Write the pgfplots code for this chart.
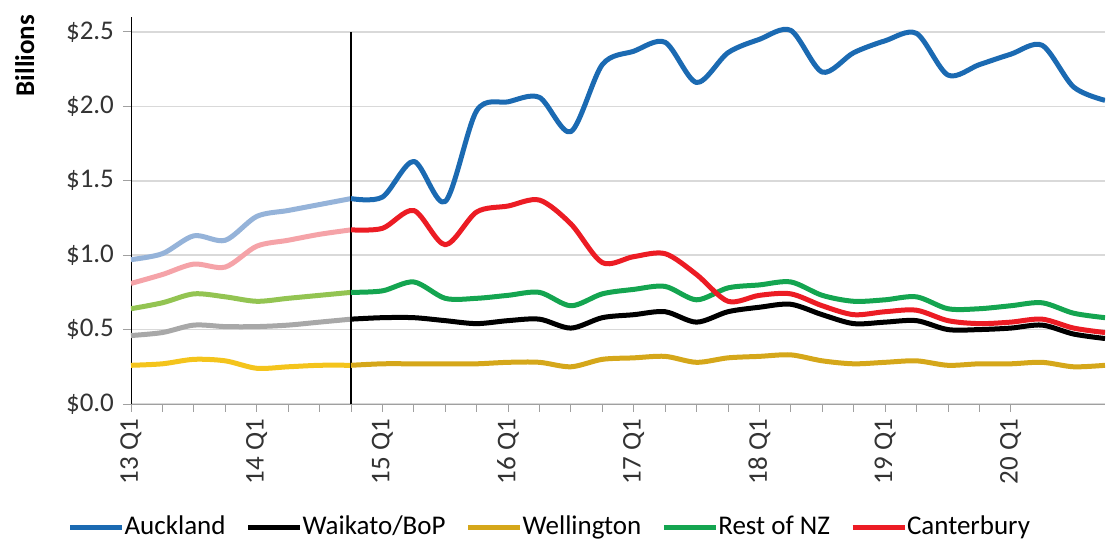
\documentclass[border=0pt]{standalone}
\usepackage{pgfplots}
\usepackage{pgfplotstable}
\pgfplotsset{compat=1.18}
\usepackage{fontspec}
\setmainfont{Carlito}

\definecolor{auck}{HTML}{1B6AB2}
\definecolor{auckL}{HTML}{95B3D9}
\definecolor{cant}{HTML}{EC1C24}
\definecolor{cantL}{HTML}{F5A3A8}
\definecolor{rest}{HTML}{14A550}
\definecolor{restL}{HTML}{93C452}
\definecolor{waikL}{HTML}{A8A8A8}
\definecolor{well}{HTML}{D5A71A}
\definecolor{wellL}{HTML}{F4C41C}
\definecolor{gridc}{HTML}{D9D9D9}
\definecolor{axisc}{HTML}{A0A0A0}

% quarterly values, $ billions, 13 Q1 = 0
\pgfplotstableread{
q auck waik well rest cant
0  0.97 0.46 0.26 0.64 0.81
1  1.01 0.48 0.27 0.68 0.87
2  1.13 0.53 0.30 0.74 0.94
3  1.10 0.52 0.29 0.72 0.92
4  1.26 0.52 0.24 0.69 1.06
5  1.30 0.53 0.25 0.71 1.10
6  1.34 0.55 0.26 0.73 1.14
7  1.38 0.57 0.26 0.75 1.17
8  1.39 0.58 0.27 0.76 1.18
9  1.63 0.58 0.27 0.82 1.30
10 1.36 0.56 0.27 0.71 1.07
11 1.97 0.54 0.27 0.71 1.29
12 2.03 0.56 0.28 0.73 1.33
13 2.06 0.57 0.28 0.75 1.37
14 1.83 0.51 0.25 0.66 1.21
15 2.28 0.58 0.30 0.74 0.95
16 2.37 0.60 0.31 0.77 0.99
17 2.43 0.62 0.32 0.79 1.01
18 2.16 0.55 0.28 0.70 0.87
19 2.36 0.62 0.31 0.78 0.69
20 2.45 0.65 0.32 0.80 0.73
21 2.51 0.67 0.33 0.82 0.74
22 2.23 0.60 0.29 0.73 0.66
23 2.36 0.54 0.27 0.69 0.60
24 2.44 0.55 0.28 0.70 0.62
25 2.49 0.56 0.29 0.72 0.63
26 2.21 0.50 0.26 0.64 0.56
27 2.28 0.50 0.27 0.64 0.54
28 2.35 0.51 0.27 0.66 0.55
29 2.41 0.53 0.28 0.68 0.57
30 2.13 0.47 0.25 0.61 0.51
31 2.04 0.44 0.26 0.58 0.48
}\datatable

\begin{document}
\begin{tikzpicture}
\begin{axis}[
    at={(0,0)}, anchor=south west,
    scale only axis,
    width=487pt, height=193.5pt,
    xmin=0, xmax=31, ymin=0, ymax=2.6,
    axis x line*=bottom, axis y line*=left,
    x axis line style={axisc, -},
    y axis line style={black, -},
    xtick={0,4,...,28},
    xticklabels={13 Q1,14 Q1,15 Q1,16 Q1,17 Q1,18 Q1,19 Q1,20 Q1},
    minor x tick num=3,
    ytick={0,0.5,...,2.5},
    yticklabels={\$0.0,\$0.5,\$1.0,\$1.5,\$2.0,\$2.5},
    tick align=outside,
    major tick length=4pt, minor tick length=4pt,
    tick style={axisc, thin},
    ymajorgrids, major grid style={gridc, line width=0.8pt},
    ticklabel style={font=\fontsize{13.5}{16}\selectfont, text=black!80},
    xticklabel style={rotate=90, anchor=east, xshift=0pt},
    yticklabel style={xshift=-1pt},
    ylabel={Billions},
    ylabel style={font=\fontsize{13.5}{16}\selectfont\bfseries,
                  at={(axis description cs:-0.109,0.9)}, anchor=center},
    legend columns=5,
    legend style={draw=none, fill=none,
                  at={(axis description cs:0.431,-0.318)}, anchor=center,
                  font=\fontsize{13.5}{16}\selectfont,
                  /tikz/every even column/.append style={column sep=8pt},
                  /tikz/every odd column/.append style={column sep=-2pt}},
    legend image code/.code={\draw[#1, line width=2.5pt] (0pt,0pt) -- (26pt,0pt);},
    every axis plot/.append style={line width=2.5pt, smooth, tension=0.5, line join=round},
]
% faded history, 13 Q1 to 14 Q4
\addplot[auckL, forget plot, restrict x to domain=0:7] table[x=q, y=auck] {\datatable};
\addplot[waikL, forget plot, restrict x to domain=0:7] table[x=q, y=waik] {\datatable};
\addplot[wellL, forget plot, restrict x to domain=0:7] table[x=q, y=well] {\datatable};
\addplot[restL, forget plot, restrict x to domain=0:7] table[x=q, y=rest] {\datatable};
\addplot[cantL, forget plot, restrict x to domain=0:7] table[x=q, y=cant] {\datatable};
% marker line at 14 Q4
\addplot[black, line width=0.6pt, forget plot, sharp plot] coordinates {(7,0) (7,2.5)};
% full colour from 14 Q4
\addplot[auck, restrict x to domain=7:31] table[x=q, y=auck] {\datatable};
\addlegendentry{Auckland}
\addplot[black, restrict x to domain=7:31] table[x=q, y=waik] {\datatable};
\addlegendentry{Waikato/BoP}
\addplot[well, restrict x to domain=7:31] table[x=q, y=well] {\datatable};
\addlegendentry{Wellington}
\addplot[rest, restrict x to domain=7:31] table[x=q, y=rest] {\datatable};
\addlegendentry{Rest of NZ}
\addplot[cant, restrict x to domain=7:31] table[x=q, y=cant] {\datatable};
\addlegendentry{Canterbury}
\end{axis}
\pgfresetboundingbox
\path (-65.5pt,-68pt) rectangle (488.5pt,202pt);
\end{tikzpicture}
\end{document}
